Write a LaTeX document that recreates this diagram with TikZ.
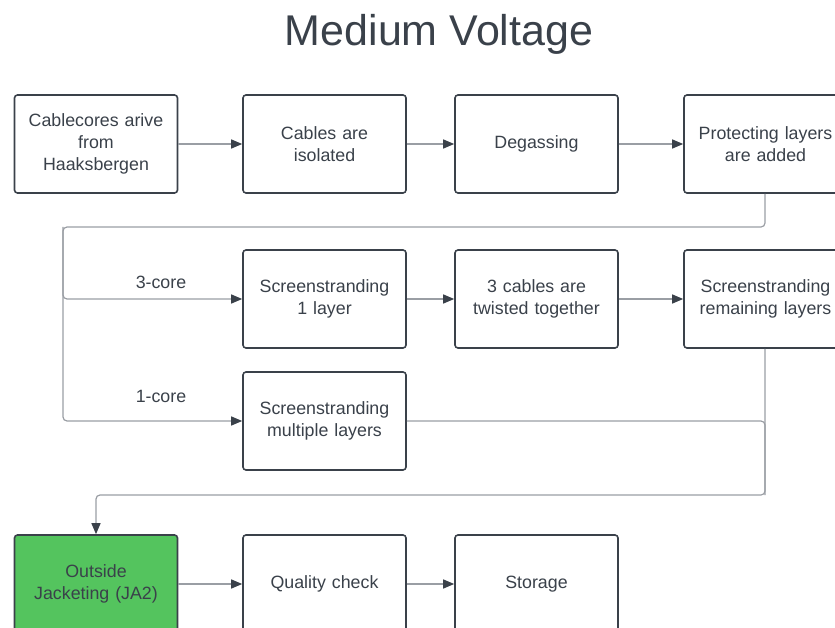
\documentclass[tikz,border=0pt]{standalone}
\usepackage{fontspec}
\setmainfont{Liberation Sans}
\usetikzlibrary{arrows.meta}
\definecolor{ink}{HTML}{3A414A}
\definecolor{wire}{HTML}{9A9EA4}
\definecolor{okgreen}{HTML}{54C45E}
\begin{document}
\begin{tikzpicture}[x=1pt,y=-1pt,
  stepbox/.style={draw=ink,line width=1.6pt,rounded corners=3pt,fill=white,
    minimum width=163pt,minimum height=98pt,inner sep=0pt,align=center,
    text=ink,font=\fontsize{17.8}{22}\selectfont,text width=160pt},
  link/.style={draw=wire,line width=1.2pt,rounded corners=4pt,
    -{Triangle[length=11pt,width=9pt,color=ink,fill=ink]}},
  plain/.style={draw=wire,line width=1.2pt,rounded corners=4pt},
  lbl/.style={text=ink,font=\fontsize{17.8}{22}\selectfont}]
\useasboundingbox (0,0) rectangle (835,628);
\begin{scope}
\clip (0,0) rectangle (835,628);
\node[text=ink,font=\fontsize{43}{50}\selectfont] (title) at (439,34) {Medium Voltage};
% row 1
\node[stepbox] (a1) at (96,144) {Cablecores arive\\from\\Haaksbergen};
\node[stepbox] (a2) at (324.5,144) {Cables are\\isolated};
\node[stepbox] (a3) at (536.5,144) {Degassing};
\node[stepbox] (a4) at (765.5,144) {Protecting layers\\are added};
% row 2
\node[stepbox] (b2) at (324.5,299) {Screenstranding\\1 layer};
\node[stepbox] (b3) at (536.5,299) {3 cables are\\twisted together};
\node[stepbox] (b4) at (765.5,299) {Screenstranding\\remaining layers};
% row 3
\node[stepbox] (c2) at (324.5,421) {Screenstranding\\multiple layers};
% row 4
\node[stepbox,fill=okgreen] (d1) at (96,584) {Outside\\Jacketing (JA2)};
\node[stepbox] (d2) at (324.5,584) {Quality check};
\node[stepbox] (d3) at (536.5,584) {Storage};
% labels
\node[lbl] (l3) at (161,282) {3-core};
\node[lbl] (l1) at (161,396) {1-core};
% coordinates
\coordinate (s1) at (765,227);
\coordinate (s2) at (63,227);
\coordinate (m1) at (765,495);
\coordinate (m2) at (96,495);
% connectors
\draw[link] (a1) -- (a2);
\draw[link] (a2) -- (a3);
\draw[link] (a3) -- (a4);
\draw[link] (a4.south -| s1) -- (s1) -- (s2) |- (b2.west);
\draw[link] (s2) |- (c2.west);
\draw[link] (b2) -- (b3);
\draw[link] (b3) -- (b4);
\draw[plain] (c2.east) -| (m1);
\draw[link] (b4.south -| m1) -- (m1) -- (m2) -- (d1.north -| m2);
\draw[link] (d1) -- (d2);
\draw[link] (d2) -- (d3);
\end{scope}
\end{tikzpicture}
\end{document}
